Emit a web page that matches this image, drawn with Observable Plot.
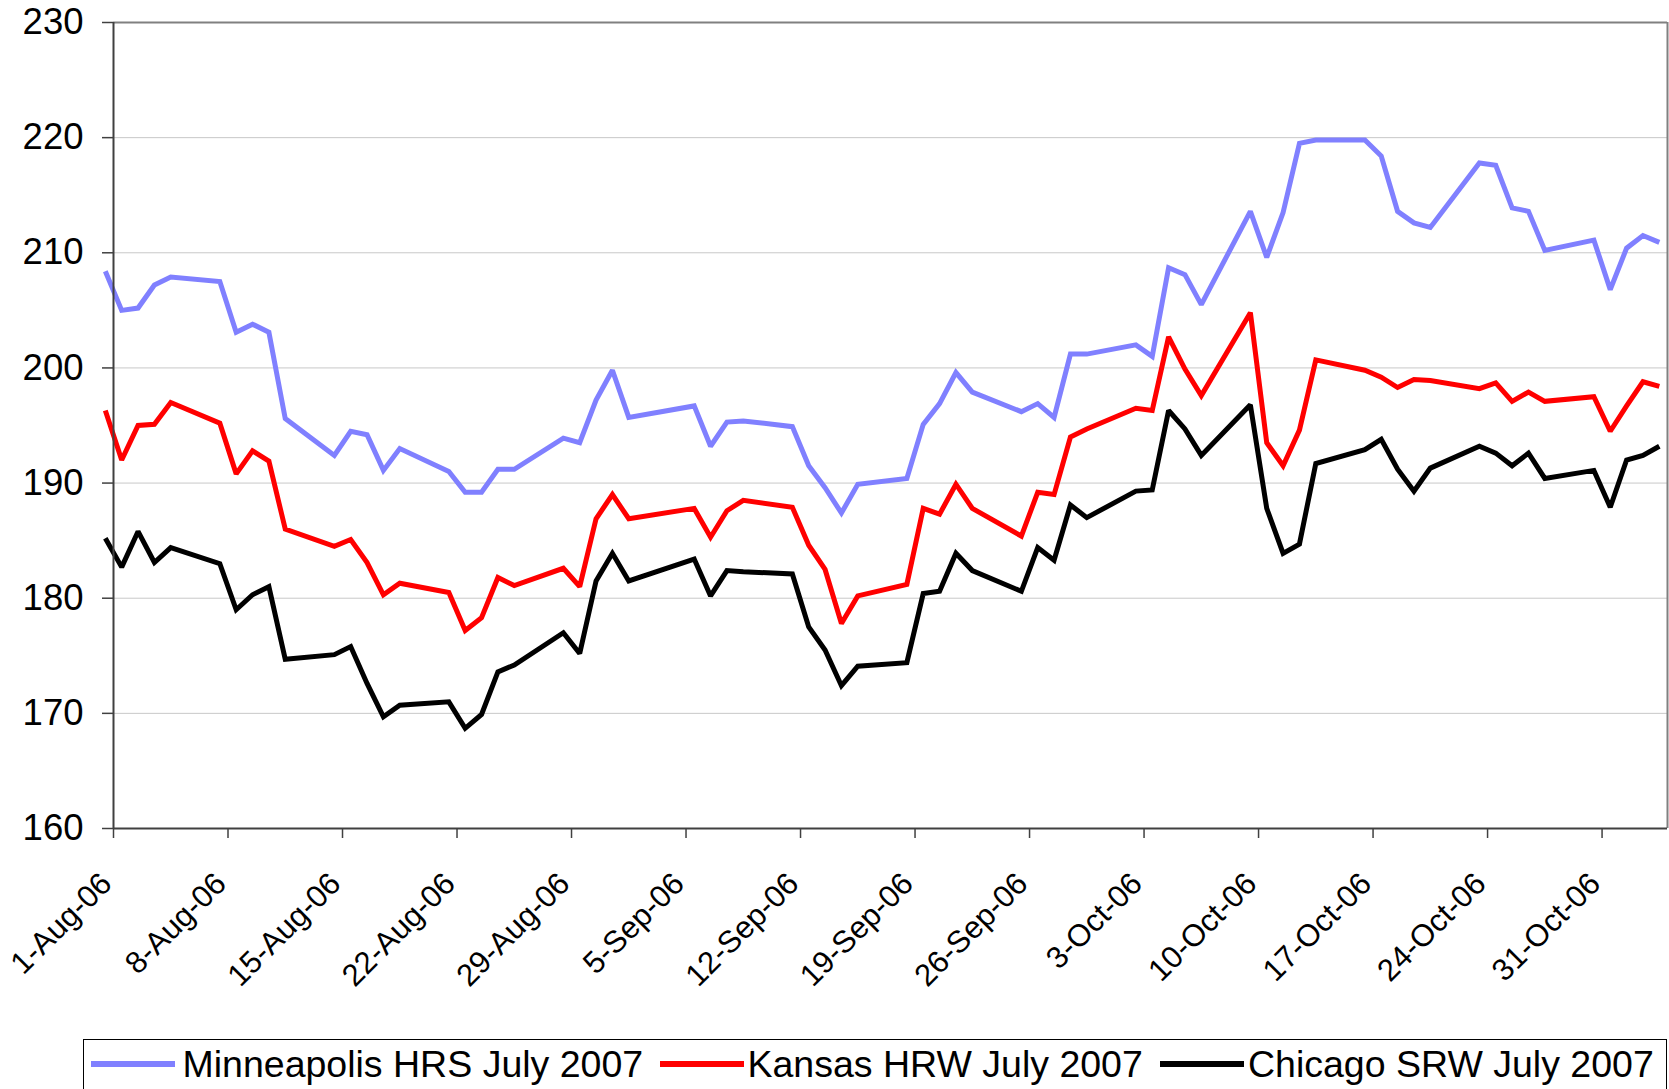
<!DOCTYPE html>
<html>
<head>
<meta charset="utf-8">
<script src="https://cdn.jsdelivr.net/npm/d3@7"></script>
<script src="https://cdn.jsdelivr.net/npm/@observablehq/plot@0.6"></script>
<style>
  body { margin: 0; background: #fff; font-family: "Liberation Sans", Arial, sans-serif; }
  #wrap { position: relative; width: 1669px; height: 1089px; overflow: hidden; background: #fff; }
  #chart { position: absolute; left: 0; top: 0; }
  #legend { position: absolute; left: 83px; top: 1039px; width: 1584px; height: 80px;
            border: 1.5px solid #000; box-sizing: border-box; background: #fff; }
  .sw { position: absolute; top: 20.5px; width: 84px; height: 6px; }
  .lt { position: absolute; top: 6px; font-size: 37.5px; line-height: 37px; color: #000; white-space: nowrap; }
</style>
</head>
<body>
<div id="wrap">
  <div id="chart"></div>
  <div id="legend"></div>
</div>
<script>
// ---- data (trading days) ----
const dates = [
  "2006-07-31","2006-08-01","2006-08-02","2006-08-03","2006-08-04",
  "2006-08-07","2006-08-08","2006-08-09","2006-08-10","2006-08-11",
  "2006-08-14","2006-08-15","2006-08-16","2006-08-17","2006-08-18",
  "2006-08-21","2006-08-22","2006-08-23","2006-08-24","2006-08-25",
  "2006-08-28","2006-08-29","2006-08-30","2006-08-31","2006-09-01",
  "2006-09-05","2006-09-06","2006-09-07","2006-09-08",
  "2006-09-11","2006-09-12","2006-09-13","2006-09-14","2006-09-15",
  "2006-09-18","2006-09-19","2006-09-20","2006-09-21","2006-09-22",
  "2006-09-25","2006-09-26","2006-09-27","2006-09-28","2006-09-29",
  "2006-10-02","2006-10-03","2006-10-04","2006-10-05","2006-10-06",
  "2006-10-09","2006-10-10","2006-10-11","2006-10-12","2006-10-13",
  "2006-10-16","2006-10-17","2006-10-18","2006-10-19","2006-10-20",
  "2006-10-23","2006-10-24","2006-10-25","2006-10-26","2006-10-27",
  "2006-10-30","2006-10-31","2006-11-01","2006-11-02","2006-11-03"
];

const minneapolis = [
  208.4, 205.0, 205.2, 207.2, 207.9,
  207.5, 203.1, 203.8, 203.1, 195.6,
  192.4, 194.5, 194.2, 191.1, 193.0,
  191.0, 189.2, 189.2, 191.2, 191.2,
  193.9, 193.5, 197.2, 199.8, 195.7,
  196.7, 193.2, 195.3, 195.4,
  194.9, 191.5, 189.6, 187.4, 189.9,
  190.4, 195.1, 196.9, 199.6, 197.9,
  196.2, 196.9, 195.7, 201.2, 201.2,
  202.0, 201.0, 208.7, 208.1, 205.5,
  213.6, 209.6, 213.5, 219.5, 219.8,
  219.8, 218.4, 213.6, 212.6, 212.2,
  217.8, 217.6, 213.9, 213.6, 210.2,
  211.1, 206.8, 210.4, 211.5, 210.9
];

const kansas = [
  196.3, 192.0, 195.0, 195.1, 197.0,
  195.2, 190.8, 192.8, 191.9, 186.0,
  184.5, 185.1, 183.1, 180.3, 181.3,
  180.5, 177.2, 178.3, 181.8, 181.1,
  182.6, 181.0, 186.9, 189.0, 186.9,
  187.8, 185.3, 187.6, 188.5,
  187.9, 184.6, 182.5, 177.8, 180.2,
  181.2, 187.8, 187.3, 189.9, 187.8,
  185.4, 189.2, 189.0, 194.0, 194.7,
  196.5, 196.3, 202.7, 199.9, 197.6,
  204.8, 193.5, 191.5, 194.6, 200.7,
  199.8, 199.2, 198.3, 199.0, 198.9,
  198.2, 198.7, 197.1, 197.9, 197.1,
  197.5, 194.5, 196.7, 198.8, 198.4
];

const chicago = [
  185.2, 182.7, 185.8, 183.1, 184.4,
  183.0, 179.0, 180.3, 181.0, 174.7,
  175.1, 175.8, 172.6, 169.7, 170.7,
  171.0, 168.7, 169.9, 173.6, 174.2,
  177.0, 175.2, 181.5, 183.9, 181.5,
  183.4, 180.2, 182.4, 182.3,
  182.1, 177.5, 175.5, 172.4, 174.1,
  174.4, 180.4, 180.6, 183.9, 182.4,
  180.6, 184.4, 183.3, 188.1, 187.0,
  189.3, 189.4, 196.3, 194.7, 192.4,
  196.8, 187.8, 183.9, 184.7, 191.7,
  192.9, 193.8, 191.2, 189.3, 191.3,
  193.2, 192.6, 191.5, 192.6, 190.4,
  191.1, 187.9, 192.0, 192.4, 193.2
];

const seriesNames = ["Minneapolis HRS July 2007", "Kansas HRW July 2007", "Chicago SRW July 2007"];
const seriesColors = ["#8080ff", "#ff0000", "#000000"];

const tickDates = ["2006-08-01","2006-08-08","2006-08-15","2006-08-22","2006-08-29","2006-09-05",
  "2006-09-12","2006-09-19","2006-09-26","2006-10-03","2006-10-10","2006-10-17","2006-10-24","2006-10-31"];
const tickLabels = ["1-Aug-06","8-Aug-06","15-Aug-06","22-Aug-06","29-Aug-06","5-Sep-06",
  "12-Sep-06","19-Sep-06","26-Sep-06","3-Oct-06","10-Oct-06","17-Oct-06","24-Oct-06","31-Oct-06"];
const yTicks = [160, 170, 180, 190, 200, 210, 220, 230];
const xStart = "2006-08-01";
const xEnd = "2006-11-04";

// ---- build ----
const parse = d3.utcParse("%Y-%m-%d");
const HALF_DAY = 12 * 3600 * 1000; // points sit in the middle of their day
const rows = [];
[minneapolis, kansas, chicago].forEach((vals, i) =>
  vals.forEach((v, j) => rows.push({ series: seriesNames[i], date: new Date(+parse(dates[j]) + HALF_DAY), value: v }))
);
const xDomain = [parse(xStart), parse(xEnd)];
const ticks = tickDates.map(parse);

const chart = Plot.plot({
  width: 1669,
  height: 1030,
  marginLeft: 113,
  marginRight: 2,
  marginTop: 22,
  marginBottom: 202,
  style: { fontFamily: "'Liberation Sans', Arial, sans-serif", background: "white", overflow: "visible" },
  x: { type: "utc", domain: xDomain, label: null },
  y: { domain: [160, 230], label: null },
  color: { domain: seriesNames, range: seriesColors },
  marks: [
    Plot.gridY(yTicks, { stroke: "#c8c8c8", strokeOpacity: 1, strokeWidth: 1 }),
    Plot.lineY(rows, { x: "date", y: "value", z: "series", stroke: "series",
      strokeWidth: 5, strokeLinejoin: "miter", strokeMiterlimit: 2, strokeLinecap: "butt" }),
    Plot.ruleY([230], { stroke: "#808080", strokeWidth: 2 }),
    Plot.ruleX([xDomain[1]], { stroke: "#808080", strokeWidth: 2 }),
    Plot.ruleY([160], { stroke: "#404040", strokeWidth: 2 }),
    Plot.ruleX([xDomain[0]], { stroke: "#404040", strokeWidth: 2 }),
    Plot.axisY(yTicks, { tickSize: 11, tickPadding: 19, fontSize: 36.5, stroke: "#404040", strokeWidth: 1.5,
      fill: "black", tickFormat: d => String(d), label: null }),
    Plot.axisX(ticks, { tickSize: 10, stroke: "#404040", strokeWidth: 1.5, tickFormat: () => "", label: null }),
    Plot.text(ticks, { x: d => d, text: (d, i) => tickLabels[i], frameAnchor: "bottom",
      rotate: -45, textAnchor: "end", lineAnchor: "middle", dx: -7, dy: 50, fontSize: 31, fill: "black" })
  ]
});
document.getElementById("chart").appendChild(chart);

// ---- legend ----
const legend = document.getElementById("legend");
const swLeft = [7, 575.5, 1075.5];
const txLeft = [98.5, 663.5, 1164];
seriesNames.forEach((name, i) => {
  const sw = document.createElement("div");
  sw.className = "sw";
  sw.style.left = swLeft[i] + "px";
  sw.style.background = seriesColors[i];
  legend.appendChild(sw);
  const t = document.createElement("div");
  t.className = "lt";
  t.style.left = txLeft[i] + "px";
  t.textContent = name;
  legend.appendChild(t);
});
</script>
</body>
</html>
